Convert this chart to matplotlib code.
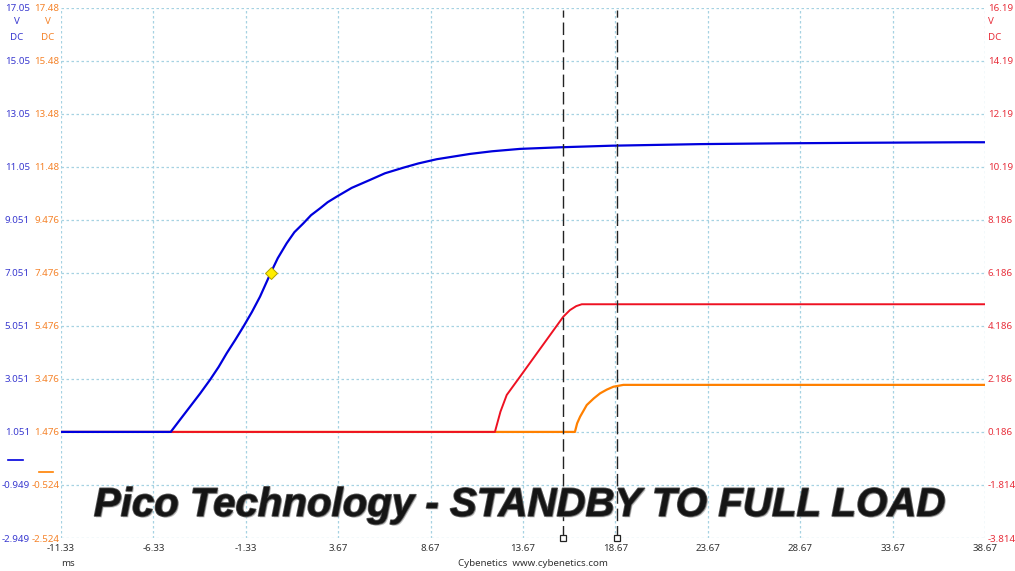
import matplotlib
matplotlib.use("Agg")
import matplotlib.pyplot as plt
import matplotlib.patheffects as pe

# ---------------- data ----------------
x_ticks = [-11.33, -6.33, -1.33, 3.67, 8.67, 13.67, 18.67, 23.67, 28.67, 33.67, 38.67]
x_tick_labels = ["-11.33", "-6.33", "-1.33", "3.67", "8.67", "13.67", "18.67",
                 "23.67", "28.67", "33.67", "38.67"]

blue_ticks = [-2.949, -0.949, 1.051, 3.051, 5.051, 7.051, 9.051, 11.05, 13.05, 15.05, 17.05]
blue_tick_labels = ["-2.949", "-0.949", "1.051", "3.051", "5.051", "7.051", "9.051",
                    "11.05", "13.05", "15.05", "17.05"]
orange_ticks = [-2.524, -0.524, 1.476, 3.476, 5.476, 7.476, 9.476, 11.48, 13.48, 15.48, 17.48]
orange_tick_labels = ["-2.524", "-0.524", "1.476", "3.476", "5.476", "7.476", "9.476",
                      "11.48", "13.48", "15.48", "17.48"]
red_ticks = [-3.814, -1.814, 0.186, 2.186, 4.186, 6.186, 8.186, 10.19, 12.19, 14.19, 16.19]
red_tick_labels = ["-3.814", "-1.814", "0.186", "2.186", "4.186", "6.186", "8.186",
                   "10.19", "12.19", "14.19", "16.19"]

# blue trace (ms, V)
blue_t = [-11.33, -5.39, -4.90, -4.35, -3.80, -3.27, -2.80, -2.36, -1.90, -1.46, -1.00,
          -0.56, 0.02, 0.40, 0.88, 1.30, 1.78, 2.20, 2.69, 3.10, 3.59, 4.40, 5.39, 6.20,
          7.19, 8.00, 9.00, 10.80, 12.00, 13.51, 15.67, 18.47, 23.27, 27.74, 32.00,
          37.68, 38.67]
blue_v = [1.051, 1.051, 1.50, 2.00, 2.50, 3.01, 3.50, 4.02, 4.52, 5.02, 5.57,
          6.15, 7.05, 7.60, 8.16, 8.58, 8.91, 9.22, 9.48, 9.71, 9.92, 10.25, 10.55, 10.80,
          11.01, 11.17, 11.33, 11.53, 11.63, 11.72, 11.78, 11.84, 11.90, 11.93, 11.95,
          11.97, 11.97]

# red trace (ms, V)
red_t = [-11.33, 12.15, 12.45, 12.79, 13.51, 15.85, 16.21, 16.55, 16.85, 38.67]
red_v = [0.186, 0.186, 0.95, 1.58, 2.27, 4.53, 4.78, 4.93, 5.00, 5.00]

# orange trace (ms, V)
orange_t = [-11.33, 16.48, 16.60, 16.76, 17.12, 17.50, 17.84, 18.20, 18.56, 19.10, 38.67]
orange_v = [1.476, 1.476, 1.80, 2.05, 2.49, 2.74, 2.93, 3.07, 3.18, 3.25, 3.25]

cursor_t = [15.83, 18.74]
marker_t = [0.02]
marker_v = [7.051]

title_text = "Pico Technology - STANDBY TO FULL LOAD"

# ---------------- styles ----------------
C_BLUE = "#0000dd"
C_RED = "#ee1122"
C_ORANGE = "#ff8000"
L_BLUE = "#3a3ad0"
L_ORANGE = "#f5832a"
L_RED = "#e8303c"
GRID = "#a6d2e2"
FONT = "Noto Sans"
FS = 7

W, H = 1015, 571
fig = plt.figure(figsize=(W / 100, H / 100), dpi=100)
L, R, T, B = 61, 985, 7.5, 538
ax_o = fig.add_axes([L / W, 1 - B / H, (R - L) / W, (B - T) / H])
ax_r = ax_o.twinx()
ax_b = ax_o.twinx()

for a in (ax_o, ax_r, ax_b):
    for s in a.spines.values():
        s.set_visible(False)
    a.set_xlim(x_ticks[0], x_ticks[-1])

ax_o.set_ylim(orange_ticks[0], orange_ticks[-1])
ax_r.set_ylim(red_ticks[0], red_ticks[-1])
ax_b.set_ylim(blue_ticks[0], blue_ticks[-1])

# x ticks / grid on base axis
ax_o.set_xticks(x_ticks)
ax_o.set_xticklabels(x_tick_labels, fontsize=FS, color="#333333", family=FONT)
ax_o.tick_params(axis="x", length=0, pad=4)
ax_o.set_yticks(orange_ticks)
ax_o.set_yticklabels(orange_tick_labels, fontsize=FS, color=L_ORANGE, family=FONT)
ax_o.tick_params(axis="y", length=0, pad=1)
ax_o.grid(True, color=GRID, linestyle=(0, (2, 2)), linewidth=0.9)
ax_o.set_axisbelow(True)

ax_r.set_yticks(red_ticks)
ax_r.set_yticklabels(red_tick_labels, fontsize=FS, color=L_RED, family=FONT)
ax_r.tick_params(axis="y", length=0, pad=2)

ax_b.yaxis.tick_left()
ax_b.set_yticks(blue_ticks)
ax_b.set_yticklabels(blue_tick_labels, fontsize=FS, color=L_BLUE, family=FONT)
ax_b.tick_params(axis="y", length=0, pad=31 * 0.72)
ax_b.tick_params(axis="x", bottom=False, labelbottom=False, top=False, labeltop=False)
ax_r.tick_params(axis="x", bottom=False, labelbottom=False, top=False, labeltop=False)

# traces
ax_o.plot(orange_t, orange_v, color=C_ORANGE, linewidth=1.6, solid_capstyle="butt",
          solid_joinstyle="round")
ax_r.plot(red_t, red_v, color=C_RED, linewidth=1.4, solid_capstyle="butt",
          solid_joinstyle="round")
ax_b.plot(blue_t, blue_v, color=C_BLUE, linewidth=1.6, solid_capstyle="butt",
          solid_joinstyle="round")
ax_b.plot(marker_t, marker_v, marker="D", markersize=6, color="#ffee00",
          markeredgecolor="#b0a000", markeredgewidth=0.7, linestyle="none", zorder=6)

# cursors
for ct in cursor_t:
    ax_b.axvline(ct, ymin=0.0, ymax=0.995, color="#222222", linewidth=1.0,
                 linestyle=(0, (9, 3.5)), zorder=5)
    ax_b.plot([ct], [blue_ticks[0]], marker="s", markersize=5, markerfacecolor="white",
              markeredgecolor="#222222", markeredgewidth=0.9, clip_on=False, zorder=7)

# unit labels
def ftext(x, y, s, **kw):
    fig.text(x / W, 1 - y / H, s, fontsize=FS, family=FONT, va="center", **kw)

ftext(17, 22, "V", color=L_BLUE, ha="center")
ftext(17, 37, "DC", color=L_BLUE, ha="center")
ftext(48, 22, "V", color=L_ORANGE, ha="center")
ftext(48, 37, "DC", color=L_ORANGE, ha="center")
ftext(988, 22, "V", color=L_RED, ha="left")
ftext(988, 37, "DC", color=L_RED, ha="left")
ftext(68, 563, "ms", color="#333333", ha="center")
ftext(533, 563, "Cybenetics  www.cybenetics.com", color="#333333", ha="center")

# legend marks
fig.add_artist(plt.Line2D([8 / W, 23 / W], [1 - 460 / H, 1 - 460 / H], color=C_BLUE, linewidth=1.2))
fig.add_artist(plt.Line2D([39 / W, 53 / W], [1 - 472 / H, 1 - 472 / H], color=C_ORANGE, linewidth=1.2))

# title
title = fig.text(520 / W, 1 - 505 / H, title_text, fontsize=30, family="Liberation Sans",
                 fontweight="bold", fontstyle="italic", color="#151515", ha="center",
                 va="center", zorder=10,
                 path_effects=[pe.withSimplePatchShadow(offset=(1, -1), shadow_rgbFace="#9a9a9a", alpha=0.6),
                               pe.withStroke(linewidth=1.2, foreground="#5a5a5a")])
fig.canvas.draw()
wpx = title.get_window_extent().width
title.set_fontsize(30 * 850.0 / wpx)

fig.savefig("out.png", dpi=100, facecolor="white")
